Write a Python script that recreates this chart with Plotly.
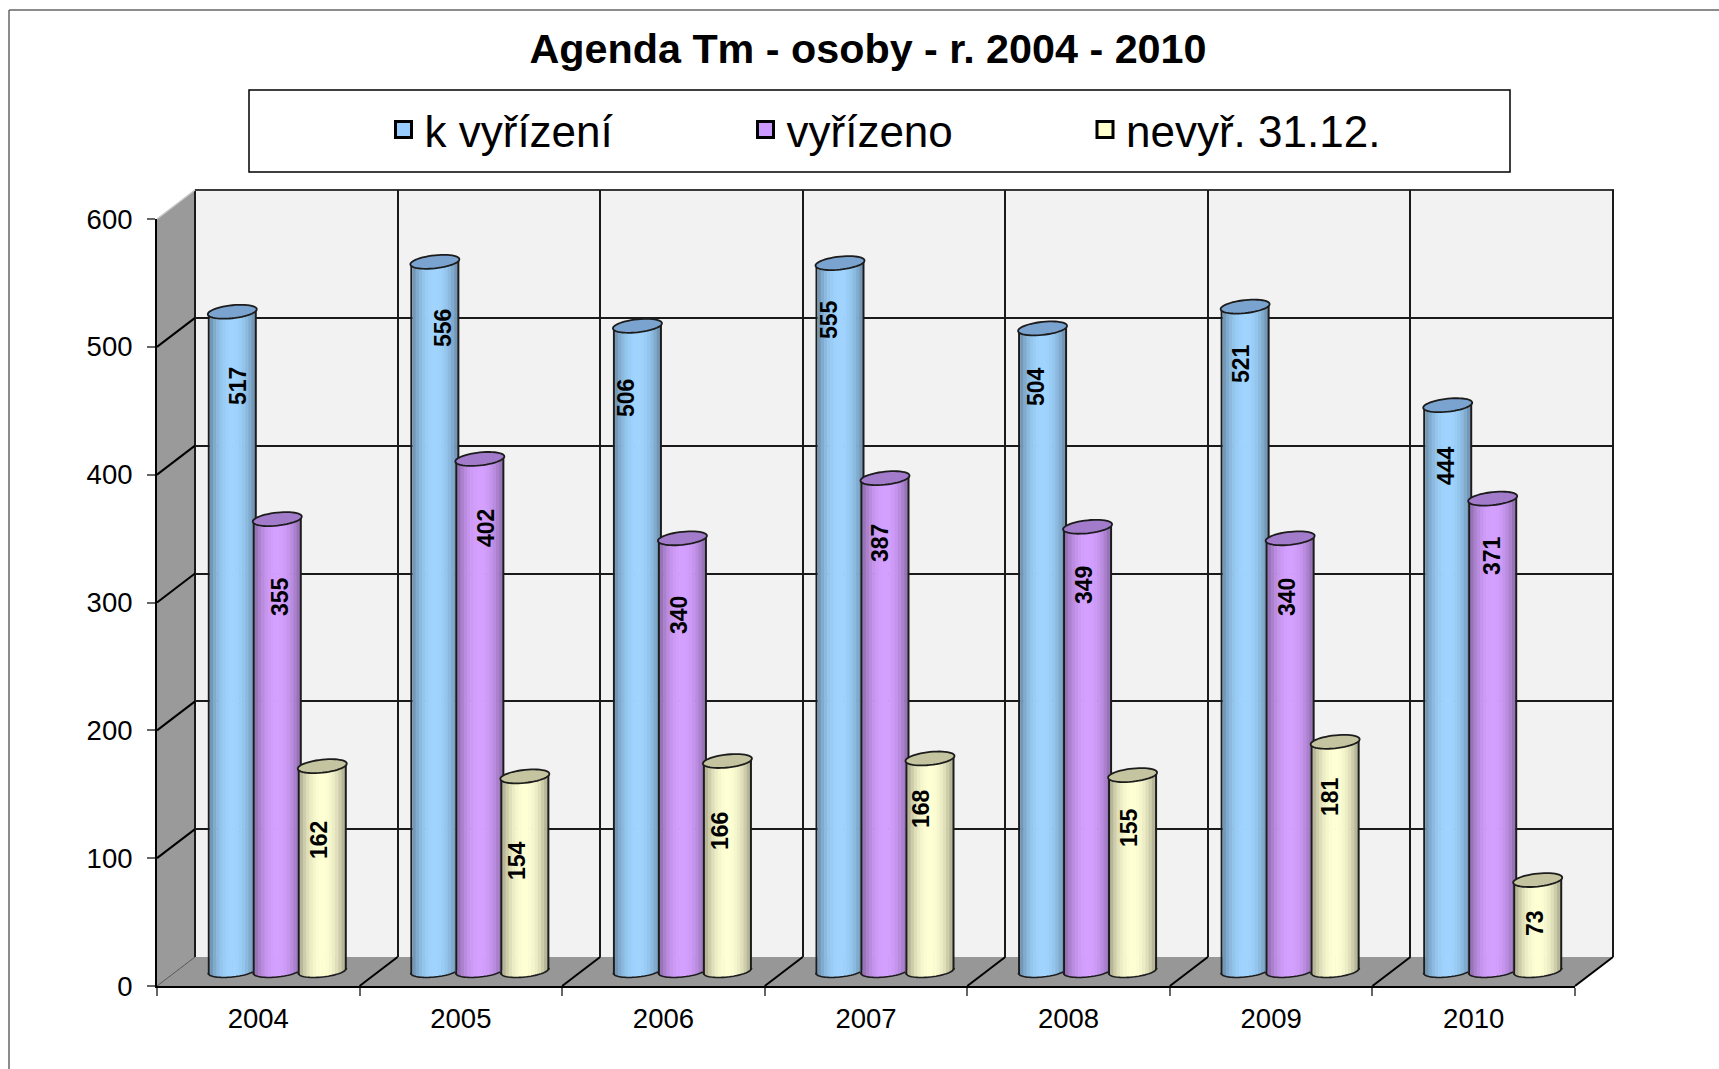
import math
import plotly.graph_objects as go

# ---------- data ----------
years = ["2004", "2005", "2006", "2007", "2008", "2009", "2010"]
k_vyrizeni = [517, 556, 506, 555, 504, 521, 444]
vyrizeno = [355, 402, 340, 387, 349, 340, 371]
nevyrizeno = [162, 154, 166, 168, 155, 181, 73]
series_names = ["k vyřízení", "vyřízeno", "nevyř. 31.12."]
y_ticks = [0, 100, 200, 300, 400, 500, 600]

# ---------- layout constants (pixels of the page) ----------
W, H = 1719, 1069
FONT = "Liberation Sans"
BACK = dict(x0=195, x1=1613, top=190, bottom=957)
FRONT = dict(x0=157, x1=1575, top=219, bottom=986)
BARS = dict(x0=176, x1=1594, top=190, bottom=985, zero=973.5, scale=1.28)
DX, DY = 38, 29
CAT_PX = (BACK["x1"] - BACK["x0"]) / 7

BAR_W_PX, BAR_STEP_PX = 49, 45
ELL_B_PX, TILT_PX, FOOT_LIFT_PX = 6.5, 2.5, 3.0
N_STRIPS = 14
colors = [(160, 212, 255), (212, 160, 255), (255, 255, 212)]
top_colors = ["#7AA3D0", "#A27CCB", "#C4C4A0"]
swatch_colors = ["#99CCFF", "#CC99FF", "#FFFFCC"]
EDGE = "#1c1c1c"

# data label centres on the page (manually placed in the original)
label_px = [
    [(238, 386), (443, 328), (626, 398), (829, 320), (1036, 387), (1241, 364), (1446, 466)],
    [(280, 597), (486, 528), (679, 615), (880, 543), (1084, 585), (1287, 597), (1492, 556)],
    [(319, 840), (517, 861), (720, 831), (921, 809), (1129, 828), (1330, 797), (1535, 923)],
]


def fx(p):
    return p / W


def fy(p):
    return 1 - p / H


def shade(rgb, t):
    f = 1 - 0.40 * abs(t) ** 2.2
    return "rgb({},{},{})".format(*[round(c * f) for c in rgb])


all_series = [k_vyrizeni, vyrizeno, nevyrizeno]
xs = list(range(len(years)))
unit_x = (BARS["x1"] - BARS["x0"]) / 7
bar_w = BAR_W_PX / unit_x
bar_step = BAR_STEP_PX / unit_x
ell_b = ELL_B_PX / BARS["scale"]
tilt = TILT_PX / BARS["scale"]
foot = FOOT_LIFT_PX / BARS["scale"]

fig = go.Figure()

# invisible anchors so back wall and front axes exist
fig.add_trace(go.Scatter(x=xs, y=k_vyrizeni, xaxis="x", yaxis="y", mode="markers",
                         marker=dict(opacity=0), hoverinfo="skip", showlegend=False))

# cylinders: every cylinder is a row of narrow bars, shaded across its width
for s, values in enumerate(all_series):
    shift = (s - 1) * bar_step
    edge_w = 2.0 / unit_x
    inner = (bar_w - 2 * edge_w) / N_STRIPS
    strips = [(-bar_w / 2, edge_w, EDGE)]
    for j in range(N_STRIPS):
        left = -bar_w / 2 + edge_w + j * inner
        t = (left + inner / 2) / (bar_w / 2)
        strips.append((left, inner + 0.6 / unit_x, shade(colors[s], t)))
    strips.append((bar_w / 2 - edge_w, edge_w, EDGE))
    for left, width, col in strips:
        t = max(-1, min(1, (left + width / 2) / (bar_w / 2)))
        base = [foot - ell_b * math.sqrt(1 - t * t) + tilt * t for _ in values]
        heights = [v - b + tilt * t for v, b in zip(values, base)]
        fig.add_trace(go.Bar(x=xs, y=heights, base=base, width=width, offset=shift + left,
                             marker=dict(color=col, line=dict(width=0)),
                             xaxis="x2", yaxis="y2", hoverinfo="skip", showlegend=False))

# legend entries
legend_keys = ["legend", "legend2", "legend3"]
for s, name in enumerate(series_names):
    fig.add_trace(go.Scatter(x=[None], y=[None], name=name, mode="markers",
                             xaxis="x2", yaxis="y2", legend=legend_keys[s],
                             marker=dict(symbol="square", size=22, color=swatch_colors[s],
                                         line=dict(color="black", width=3))))

# front axes
fig.add_trace(go.Scatter(x=years, y=k_vyrizeni, xaxis="x3", yaxis="y3", mode="markers",
                         marker=dict(opacity=0), hoverinfo="skip", showlegend=False))

shapes = []


def poly(points, fill):
    d = "M" + "L".join(f"{fx(a)},{fy(b)}" for a, b in points) + "Z"
    shapes.append(dict(type="path", path=d, xref="paper", yref="paper", fillcolor=fill,
                       line=dict(width=0), layer="below"))


def seg(a, b, c, d, color="black", width=2, layer="below"):
    shapes.append(dict(type="line", xref="paper", yref="paper", x0=fx(a), y0=fy(b), x1=fx(c), y1=fy(d),
                       line=dict(color=color, width=width), layer=layer))


# outer frame and legend box
seg(9, 10, W, 10, "#666666", 1.5)
seg(9, 10, 9, H, "#666666", 1.5)
shapes.append(dict(type="rect", xref="paper", yref="paper", x0=fx(249), x1=fx(1510), y0=fy(172), y1=fy(90),
                   line=dict(color="black", width=1.5), fillcolor="white", layer="below"))

# walls
poly([(BACK["x0"], BACK["top"]), (BACK["x1"], BACK["top"]), (BACK["x1"], BACK["bottom"]),
      (BACK["x0"], BACK["bottom"])], "#F2F2F2")
poly([(FRONT["x0"], FRONT["top"]), (BACK["x0"], BACK["top"]), (BACK["x0"], BACK["bottom"]),
      (FRONT["x0"], FRONT["bottom"])], "#9A9A9A")
poly([(FRONT["x0"], FRONT["bottom"]), (BACK["x0"], BACK["bottom"]), (BACK["x1"], BACK["bottom"]),
      (FRONT["x1"], FRONT["bottom"])], "#979797")

# back wall border
seg(BACK["x0"], BACK["top"], BACK["x1"] + 1, BACK["top"], "#3a3a3a", 2)
seg(BACK["x0"], BACK["top"], BACK["x0"], BACK["bottom"], "#1a1a1a", 2)
seg(BACK["x1"], BACK["top"], BACK["x1"], BACK["bottom"], "#1a1a1a", 2)

# diagonal grid on side wall and floor
px_per_unit = (FRONT["bottom"] - FRONT["top"]) / 600
for v in y_ticks:
    yp = FRONT["bottom"] - v * px_per_unit
    if v == 600:
        seg(FRONT["x0"], yp, FRONT["x0"] + DX, yp - DY, "#C8C8C8", 1.5)
    elif v == 0:
        seg(FRONT["x0"], yp, FRONT["x0"] + DX, yp - DY, "#555555", 1)
    else:
        seg(FRONT["x0"], yp, FRONT["x0"] + DX, yp - DY, "black", 2)
for k in range(1, 8):
    xp = FRONT["x0"] + k * CAT_PX
    seg(xp, FRONT["bottom"], xp + DX, FRONT["bottom"] - DY, "black", 2)

# cylinder tops and bottom rims, placed on the bars' own axes
for s, values in enumerate(all_series):
    shift = (s - 1) * bar_step
    a = bar_w / 2
    t_max = 1.0 if s == 2 else (bar_step - a) / a
    for i, v in enumerate(values):
        cx = i + shift
        pts = []
        for n in range(48):
            th = 2 * math.pi * n / 48
            pts.append((cx + a * math.cos(th), v + ell_b * math.sin(th) + tilt * math.cos(th)))
        shapes.append(dict(type="path", xref="x2", yref="y2",
                           path="M" + "L".join(f"{p},{q}" for p, q in pts) + "Z",
                           fillcolor=top_colors[s], line=dict(color=EDGE, width=1.8), layer="above"))
        rim = []
        for n in range(25):
            t = -1 + (t_max + 1) * n / 24
            rim.append((cx + a * t, foot - ell_b * math.sqrt(max(0, 1 - t * t)) + tilt * t))
        shapes.append(dict(type="path", xref="x2", yref="y2",
                           path="M" + "L".join(f"{p},{q}" for p, q in rim),
                           line=dict(color=EDGE, width=1.6), layer="above"))

annotations = []
for s, values in enumerate(all_series):
    for i, v in enumerate(values):
        lx, ly = label_px[s][i]
        annotations.append(dict(text=f"<b>{v}</b>", x=fx(lx), y=fy(ly), xref="paper", yref="paper",
                                showarrow=False, textangle=-90, xanchor="center", yanchor="middle",
                                font=dict(family=FONT, size=23, color="black")))

legend_base = dict(orientation="h", bgcolor="rgba(0,0,0,0)", borderwidth=0, xanchor="left", yanchor="middle",
                   xref="container", yref="container",
                   itemsizing="trace", itemwidth=32, font=dict(family=FONT, size=44, color="black"),
                   tracegroupgap=0)

fig.update_layout(
    width=W, height=H, autosize=False,
    margin=dict(l=0, r=0, t=0, b=0, pad=0, autoexpand=False),
    paper_bgcolor="white", plot_bgcolor="rgba(0,0,0,0)",
    font=dict(family=FONT, color="black"),
    barmode="overlay", hovermode=False,
    title=dict(text="<b>Agenda Tm - osoby - r. 2004 - 2010</b>", x=fx(868), y=fy(49), xref="paper", yref="paper",
               xanchor="center", yanchor="middle", font=dict(family=FONT, size=41.3, color="black")),
    legend=dict(legend_base, x=fx(382.5), y=fy(130)),
    legend2=dict(legend_base, x=fx(744.5), y=fy(130)),
    legend3=dict(legend_base, x=fx(1084), y=fy(130)),
    shapes=shapes, annotations=annotations,
    # back wall
    xaxis=dict(domain=[fx(BACK["x0"]), fx(BACK["x1"])], range=[-0.5, 6.5], anchor="y",
               tickmode="array", tickvals=[i - 0.5 for i in range(8)], showticklabels=False, ticks="",
               showgrid=True, gridcolor="#1a1a1a", gridwidth=2, zeroline=False, showline=False),
    yaxis=dict(domain=[fy(BACK["bottom"]), fy(BACK["top"])], range=[0, 600], anchor="x",
               tickmode="array", tickvals=y_ticks[1:], showticklabels=False, ticks="",
               showgrid=True, gridcolor="#1a1a1a", gridwidth=2, zeroline=False, showline=False),
    # bars
    xaxis2=dict(domain=[fx(BARS["x0"]), fx(BARS["x1"])], range=[-0.5, 6.5], anchor="y2", visible=False),
    yaxis2=dict(domain=[fy(BARS["bottom"]), fy(BARS["top"])], anchor="x2", visible=False,
                range=[(BARS["zero"] - BARS["bottom"]) / BARS["scale"], (BARS["zero"] - BARS["top"]) / BARS["scale"]]),
    # front axes
    xaxis3=dict(domain=[fx(FRONT["x0"]), fx(FRONT["x1"])], anchor="y3", type="category", categoryorder="array",
                categoryarray=years, range=[-0.5, 6.5], tickson="boundaries", ticks="outside", ticklen=8,
                tickwidth=1.5, tickcolor="#666666",
                showgrid=False, zeroline=False, showline=True, linecolor="black", linewidth=2,
                tickfont=dict(family=FONT, size=27.5, color="black"), ticklabelstandoff=7),
    yaxis3=dict(domain=[fy(FRONT["bottom"]), fy(FRONT["top"])], range=[0, 600], anchor="x3",
                tickmode="array", tickvals=y_ticks, ticks="outside", ticklen=8, tickwidth=1.5, tickcolor="#666666",
                showgrid=False, zeroline=False, showline=True, linecolor="black", linewidth=2,
                tickfont=dict(family=FONT, size=27.5, color="black"), ticklabelstandoff=9),
)

fig.write_html("out.html", post_script="document.body.style.margin='0';",
               config=dict(displayModeBar=False))
